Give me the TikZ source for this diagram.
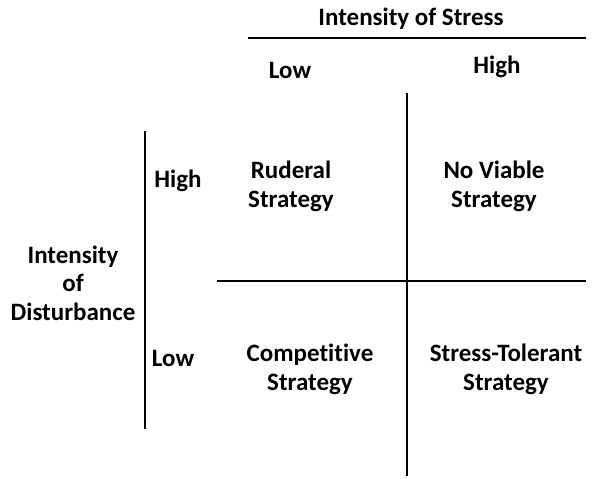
\documentclass[tikz,border=0pt]{standalone}
\usepackage{fontspec}
\setmainfont{Carlito}[Ligatures=NoCommon]
\begin{document}
\begin{tikzpicture}[x=1pt,y=-1pt,
    axis/.style={line width=2.6pt},
    lbl/.style={font=\fontsize{25}{28.5}\selectfont\bfseries, inner sep=0pt, anchor=base, align=center}]
  \useasboundingbox (0,0) rectangle (598,479);
  % axis lines
  \coordinate (stressL) at (248,38);
  \coordinate (stressR) at (586,38);
  \coordinate (midTop) at (407,93);
  \coordinate (midBot) at (407,476);
  \coordinate (midL) at (217,281);
  \coordinate (midR) at (586,281);
  \coordinate (distTop) at (145,131);
  \coordinate (distBot) at (145,429);
  \draw [axis] (stressL) -- (stressR);
  \draw [axis] (midTop) -- (midBot);
  \draw [axis] (midL) -- (midR);
  \draw [axis] (distTop) -- (distBot);
  % axis titles and levels (base = last line)
  \node [lbl] (stress) at (411,26) {Intensity of Stress};
  \node [lbl] (sLow) at (290,78) {Low};
  \node [lbl] (sHigh) at (497,73) {High};
  \node [lbl] (dist) at (73,320) {Intensity\\of\\Disturbance};
  \node [lbl] (dHigh) at (178,187) {High};
  \node [lbl] (dLow) at (173,366) {Low};
  % the four strategies
  \node [lbl] (ruderal) at (291,207) {Ruderal\\Strategy};
  \node [lbl] (none) at (494,207) {No Viable\\Strategy};
  \node [lbl] (compet) at (310,390) {Competitive\\Strategy};
  \node [lbl] (tolerant) at (506,390) {Stress-Tolerant\\Strategy};
\end{tikzpicture}
\end{document}
